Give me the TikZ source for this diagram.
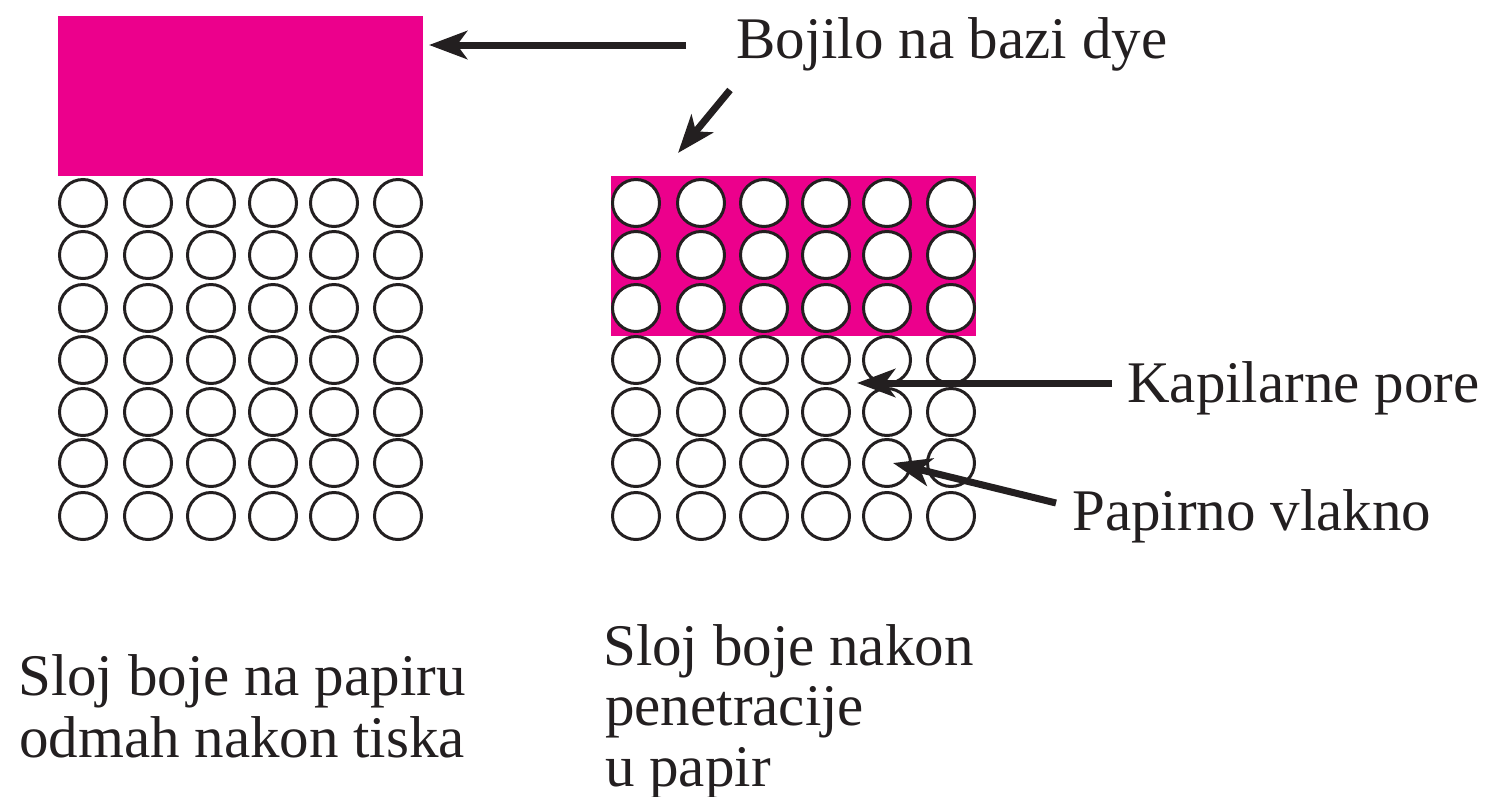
\documentclass[tikz,border=0pt]{standalone}
\usepackage{fontspec}
\setmainfont{Liberation Serif}
\usetikzlibrary{arrows.meta}
\definecolor{inkmag}{RGB}{236,0,140}
\definecolor{inkdark}{RGB}{35,31,32}

\begin{document}
\begin{tikzpicture}[x=1pt,y=-1pt,
  inklayer/.style={rectangle,fill=inkmag,draw=none,inner sep=0pt,
    minimum width=365pt,minimum height=160pt,anchor=north west},
  fibre/.style={circle,draw=inkdark,line width=3pt,fill=white,
    minimum size=47pt,inner sep=0pt},
  caption/.style={font=\fontsize{59}{61}\selectfont\rmfamily,text=inkdark,
    inner sep=0pt,anchor=base west},
  pointer/.style={draw=inkdark,line width=7pt,
    -{Stealth[length=38pt,width=28pt,inset=10pt]}}]

\useasboundingbox (0,0) rectangle (1485,796);

% ink layers
\node[inklayer] (layerTop) at (58,16) {};
\node[inklayer] (layerIn) at (611,176) {};

% paper fibres: left block and right block
\foreach \c/\x in {1/83,2/148,3/211,4/273,5/334,6/398}
  \foreach \r/\y in {1/203,2/255,3/308,4/360,5/412,6/463,7/516}{
    \node[fibre] (L-\r-\c) at (\x,\y) {};
    \node[fibre] (R-\r-\c) at (\x+553,\y) {};
  }

% labels
\node[caption] (dye) at (736,58) {Bojilo na bazi dye};
\node[caption] (pore) at (1127,402) {Kapilarne pore};
\node[caption] (fibrelbl) at (1072,530) {Papirno vlakno};
\node[caption] (capL1) at (18,695) {Sloj boje na papiru};
\node[caption] (capL2) at (19,757) {odmah nakon tiska};
\node[caption] (capR1) at (603,665) {Sloj boje nakon};
\node[caption] (capR2) at (605,725) {penetracije};
\node[caption] (capR3) at (605,786) {u papir};

% pointer ends
\coordinate (dyeA) at (686,45);
\coordinate (dyeAtip) at (429,45);
\coordinate (dyeB) at (730,90);
\coordinate (dyeBtip) at (678,153);
\coordinate (poreA) at (1112,383);
\coordinate (poreTip) at (857,383);
\coordinate (fibreA) at (1056,503);
\coordinate (fibreTip) at (893,463);

\draw[pointer] (dyeA) -- (dyeAtip);
\draw[pointer] (dyeB) -- (dyeBtip);
\draw[pointer] (poreA) -- (poreTip);
\draw[pointer] (fibreA) -- (fibreTip);
\end{tikzpicture}
\end{document}
